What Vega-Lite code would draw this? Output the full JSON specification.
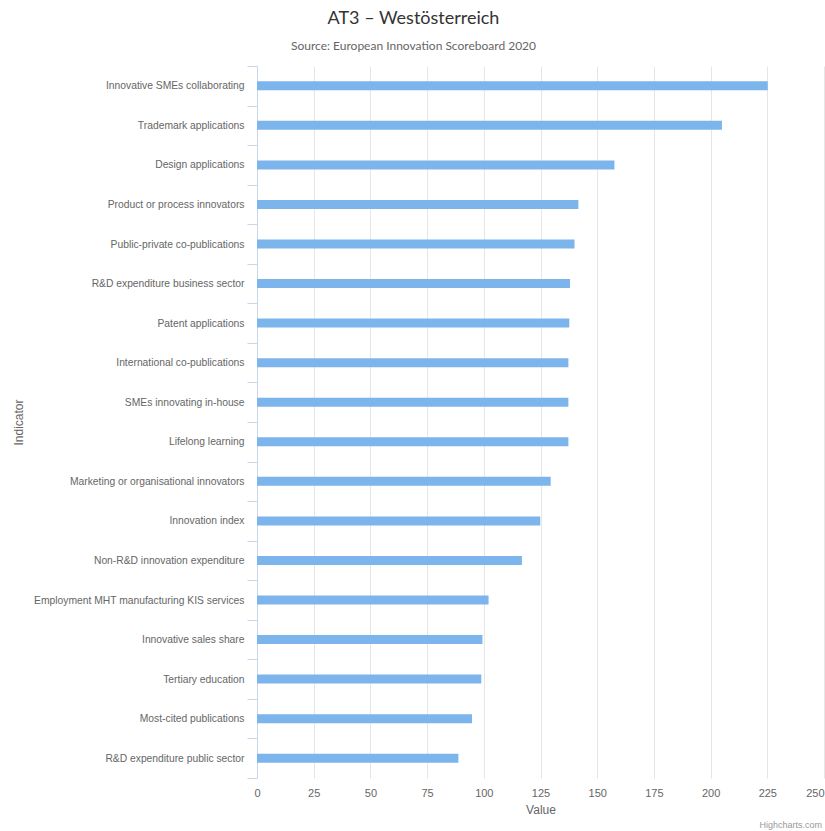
{
  "$schema": "https://vega.github.io/schema/vega-lite/v6.json",
  "autosize": {"type": "none"},
  "width": 567,
  "height": 712,
  "padding": {"left": 257, "top": 66, "right": 1, "bottom": 53},
  "background": "#ffffff",
  "title": {
    "text": "AT3 – Westösterreich",
    "subtitle": "Source: European Innovation Scoreboard 2020",
    "anchor": "middle",
    "dx": -127,
    "offset": 9,
    "font": "Lato",
    "fontSize": 18,
    "fontWeight": "normal",
    "color": "#333333",
    "subtitleFont": "Lato",
    "subtitleFontSize": 12,
    "subtitleColor": "#666666",
    "subtitlePadding": 13
  },
  "layer": [
    {
      "data": {
        "values": [
          {"Indicator": "Innovative SMEs collaborating", "Value": 225.2},
          {"Indicator": "Trademark applications", "Value": 205.0},
          {"Indicator": "Design applications", "Value": 157.6},
          {"Indicator": "Product or process innovators", "Value": 141.7},
          {"Indicator": "Public-private co-publications", "Value": 140.0},
          {"Indicator": "R&D expenditure business sector", "Value": 138.0},
          {"Indicator": "Patent applications", "Value": 137.7},
          {"Indicator": "International co-publications", "Value": 137.3},
          {"Indicator": "SMEs innovating in-house", "Value": 137.3},
          {"Indicator": "Lifelong learning", "Value": 137.3},
          {"Indicator": "Marketing or organisational innovators", "Value": 129.5},
          {"Indicator": "Innovation index", "Value": 124.9},
          {"Indicator": "Non-R&D innovation expenditure", "Value": 116.8},
          {"Indicator": "Employment MHT manufacturing KIS services", "Value": 102.1},
          {"Indicator": "Innovative sales share", "Value": 99.4},
          {"Indicator": "Tertiary education", "Value": 98.9},
          {"Indicator": "Most-cited publications", "Value": 94.8},
          {"Indicator": "R&D expenditure public sector", "Value": 88.8}
        ]
      },
      "mark": {"type": "bar", "color": "#7cb5ec", "size": 9},
      "encoding": {
        "y": {
          "field": "Indicator",
          "type": "nominal",
          "sort": null,
          "scale": {"paddingInner": 0, "paddingOuter": 0},
          "axis": {
            "title": "Indicator",
            "titleFont": "Liberation Sans",
            "titleFontSize": 12,
            "titleFontWeight": "normal",
            "titleColor": "#666666",
            "titleX": -232,
            "titleY": 356,
            "titleAlign": "center",
            "titleAngle": -90,
            "labelFont": "Liberation Sans",
            "labelFontSize": 10.3,
            "labelColor": "#666666",
            "labelPadding": 3,
            "labelLimit": 400,
            "tickBand": "extent",
            "tickSize": 10,
            "tickColor": "#ccd6eb",
            "domainColor": "#ccd6eb",
            "grid": false
          }
        },
        "x": {
          "field": "Value",
          "type": "quantitative",
          "scale": {"domain": [0, 250], "nice": false},
          "axis": {
            "title": "Value",
            "values": [0, 25, 50, 75, 100, 125, 150, 175, 200, 225, 250],
            "titleFont": "Liberation Sans",
            "titleFontSize": 12,
            "titleFontWeight": "normal",
            "titleColor": "#666666",
            "titlePadding": 6,
            "labelFont": "Liberation Sans",
            "labelFontSize": 11,
            "labelColor": "#666666",
            "labelPadding": 9,
            "labelAlign": {"condition": {"test": "datum.value === 250", "value": "right"}, "value": "center"},
            "ticks": false,
            "domain": false,
            "grid": true,
            "gridColor": "#e6e6e6",
            "labelFlush": false
          }
        }
      }
    },
    {
      "data": {"values": [{"credit": "Highcharts.com", "pos": 250, "row": "R&D expenditure public sector"}]},
      "mark": {"type": "text", "align": "right", "baseline": "middle", "dy": 67, "dx": -2, "font": "Liberation Sans", "fontSize": 9, "color": "#999999"},
      "encoding": {
        "text": {"field": "credit"},
        "x": {"field": "pos", "type": "quantitative"},
        "y": {"field": "row", "type": "nominal", "sort": null}
      }
    }
  ],
  "config": {"view": {"stroke": null}}
}
